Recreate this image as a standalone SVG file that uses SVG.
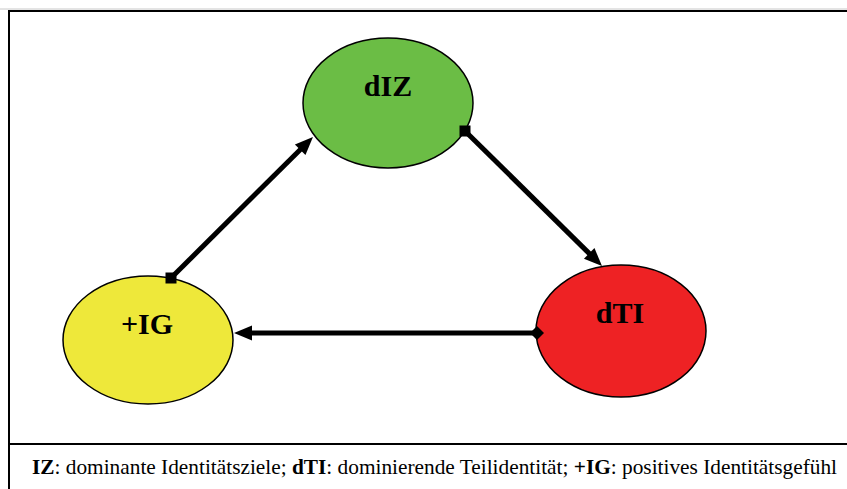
<svg xmlns="http://www.w3.org/2000/svg" width="847" height="489" viewBox="0 0 847 489">
  <style>
    .frame { stroke: #000; stroke-width: 2; fill: none; }
    .node { stroke: #000; stroke-width: 1.5; }
    .label { font-family: "Liberation Serif", "Times New Roman", serif; font-weight: bold; font-size: 30px; fill: #000; text-anchor: middle; }
    .legend { font-family: "Liberation Serif", "Times New Roman", "DejaVu Serif", serif; font-weight: normal; font-style: normal; font-size: 21px; fill: #000; }
    .edge { stroke: #000; stroke-width: 5; fill: none; }
  </style>
  <defs>
    <marker id="arrow" markerUnits="userSpaceOnUse" markerWidth="20" markerHeight="18" viewBox="0 -9 20 18" refX="0" refY="0" orient="auto" overflow="visible">
      <polygon points="-1,-7.5 17,0 -1,7.5" fill="#000"/>
    </marker>
    <marker id="square" markerUnits="userSpaceOnUse" markerWidth="14" markerHeight="14" viewBox="-7 -7 14 14" refX="0" refY="0" orient="0" overflow="visible">
      <rect x="-5.5" y="-5.5" width="11" height="11" fill="#000"/>
    </marker>
    <marker id="diamond" markerUnits="userSpaceOnUse" markerWidth="16" markerHeight="16" viewBox="-8 -8 16 16" refX="0" refY="0" orient="auto" overflow="visible">
      <polygon points="-7,0 0,-7 7,0 0,7" fill="#000"/>
    </marker>
  </defs>

  <!-- outer frame and legend separator -->
  <g id="frame">
    <line x1="0" y1="9" x2="847" y2="9" stroke="#c8c8c8" stroke-width="1"/>
    <line class="frame" x1="9" y1="11" x2="847" y2="11"/>
    <line class="frame" x1="9" y1="10" x2="9" y2="489"/>
    <line class="frame" x1="9" y1="444" x2="847" y2="444"/>
  </g>

  <g id="dIZ">
    <ellipse class="node" cx="388" cy="103" rx="85" ry="65" fill="#6BBD45"/>
    <text class="label" x="388" y="96">dIZ</text>
  </g>

  <g id="dTI">
    <ellipse class="node" cx="621" cy="331" rx="85" ry="66" fill="#EE2224"/>
    <text class="label" x="620" y="323">dTI</text>
  </g>

  <g id="IG">
    <ellipse class="node" cx="148" cy="340" rx="85" ry="64" fill="#EEE83A"/>
    <text class="label" x="147" y="334">+IG</text>
  </g>

  <!-- connectors, drawn over the nodes so the start markers sit on top -->
  <g id="connectors">
    <path class="edge" d="M171,278 L300.9,149" marker-start="url(#square)" marker-end="url(#arrow)"/>
    <path class="edge" d="M465,131 L589.9,254.1" marker-start="url(#square)" marker-end="url(#arrow)"/>
    <path class="edge" d="M537,333 L251,333" marker-start="url(#diamond)" marker-end="url(#arrow)"/>
  </g>

  <g id="legend">
    <text class="legend" x="32" y="474" textLength="805" lengthAdjust="spacingAndGlyphs"><tspan font-weight="bold">IZ</tspan>: dominante Identitätsziele; <tspan font-weight="bold">dTI</tspan>: dominierende Teilidentität; <tspan font-weight="bold">+IG</tspan>: positives Identitätsgefühl</text>
  </g>
</svg>
